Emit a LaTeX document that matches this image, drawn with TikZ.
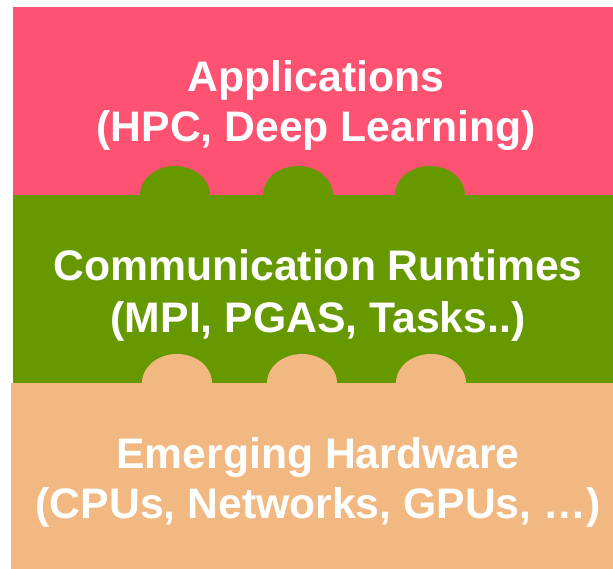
\documentclass[tikz,border=0pt]{standalone}
\usepackage{fontspec}
\setmainfont{Liberation Sans}
\definecolor{apppink}{RGB}{253,82,114}
\definecolor{rtgreen}{RGB}{102,153,0}
\definecolor{hwpeach}{RGB}{241,184,130}
\begin{document}
\begin{tikzpicture}[x=1pt,y=-1pt,
  layertext/.style={anchor=base,text=white,font=\fontsize{42.7}{50}\selectfont\bfseries,inner sep=0pt}]
\useasboundingbox (0,0) rectangle (613,569);
% applications layer
\fill[apppink] (13,7) rectangle (613,195);
% runtime layer with its knobs reaching up
\fill[rtgreen] (13,195) rectangle (613,383);
\foreach \cx in {175,298,430}
  \fill[rtgreen] (\cx,195) ellipse[x radius=35,y radius=29];
% hardware layer with its knobs reaching up
\fill[hwpeach] (11,383) rectangle (613,569);
\foreach \cx in {177,302,431}
  \fill[hwpeach] (\cx,383) ellipse[x radius=35,y radius=29];
% labels
\node[layertext] (app1) at (316,92) {Applications};
\node[layertext] (app2) at (316,142) {(HPC, Deep Learning)};
\node[layertext] (rt1) at (318,280) {Communication Runtimes};
\node[layertext] (rt2) at (318,332) {(MPI, PGAS, Tasks..)};
\node[layertext] (hw1) at (318,468) {Emerging Hardware};
\node[layertext] (hw2) at (318,518) {(CPUs, Networks, GPUs, …)};
\end{tikzpicture}
\end{document}
